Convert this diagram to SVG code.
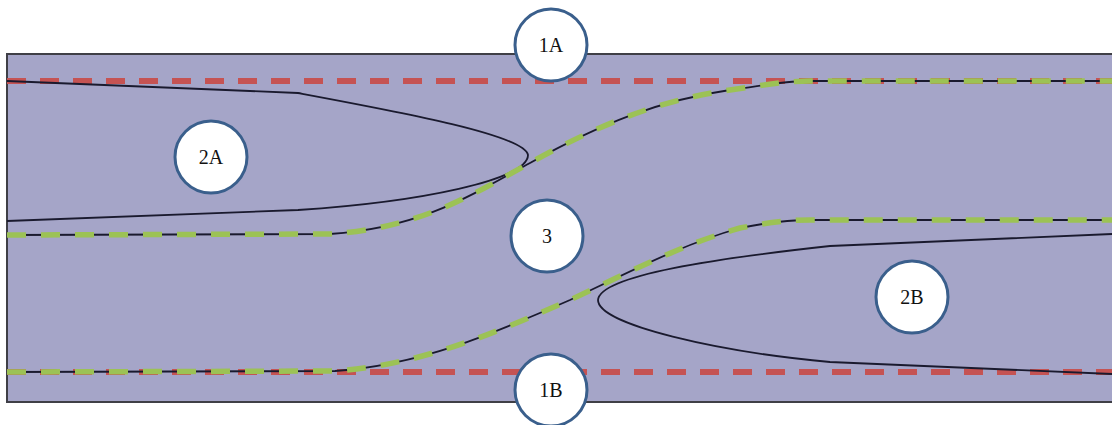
<svg xmlns="http://www.w3.org/2000/svg" width="1112" height="425" viewBox="0 0 1112 425">
<style>
.bg{fill:#a5a5c8;stroke:#3f3f46;stroke-width:2}
.red{fill:none;stroke:#c55353;stroke-width:6;stroke-dasharray:19 14}
.blk{fill:none;stroke:#1a1a2e;stroke-width:1.8}
.grn{fill:none;stroke:#9cc255;stroke-width:5.5;stroke-dasharray:19 15}
.node circle{fill:#ffffff;stroke:#3a5f8c;stroke-width:3}
.node text{font-family:"Liberation Serif","DejaVu Serif",serif;font-size:20px;fill:#111;text-anchor:middle;dominant-baseline:central}
</style>
<rect class="bg" x="7" y="54" width="1120" height="348"/>
<g id="connectors">
<path class="red" d="M7,81 L1112,81"/>
<path class="red" d="M7,372 L1112,372"/>
<path class="blk" d="M7,81 L298,93 C400,112 525,135 528,155 C528,180 420,202 298,210 L7,221"/>
<path class="blk" d="M1112,234 L830,246 C720,258 600,275 598,300 C598,325 720,352 830,362 L1112,374"/>
<path class="blk" d="M7,235 L330,234 C420,228 470,196 530,163 C600,124 660,100 730,90 C770,84 790,81 810,81 L1112,81"/>
<path class="blk" d="M7,372 L335,371 C420,365 490,335 570,300 C630,272 680,245 740,228 C770,222 790,220 810,220 L1112,220"/>
<path class="grn" d="M7,235 L330,234 C420,228 470,196 530,163 C600,124 660,100 730,90 C770,84 790,81 810,81 L1112,81"/>
<path class="grn" d="M7,372 L335,371 C420,365 490,335 570,300 C630,272 680,245 740,228 C770,222 790,220 810,220 L1112,220"/>
</g>
<g id="n1A" class="node"><circle cx="551" cy="45" r="36"/><text x="551" y="45">1A</text></g>
<g id="n2A" class="node"><circle cx="211" cy="157" r="36"/><text x="211" y="157">2A</text></g>
<g id="n3" class="node"><circle cx="547" cy="236" r="36"/><text x="547" y="236">3</text></g>
<g id="n2B" class="node"><circle cx="912" cy="297" r="36"/><text x="912" y="297">2B</text></g>
<g id="n1B" class="node"><circle cx="551" cy="390" r="36"/><text x="551" y="390">1B</text></g>
</svg>
